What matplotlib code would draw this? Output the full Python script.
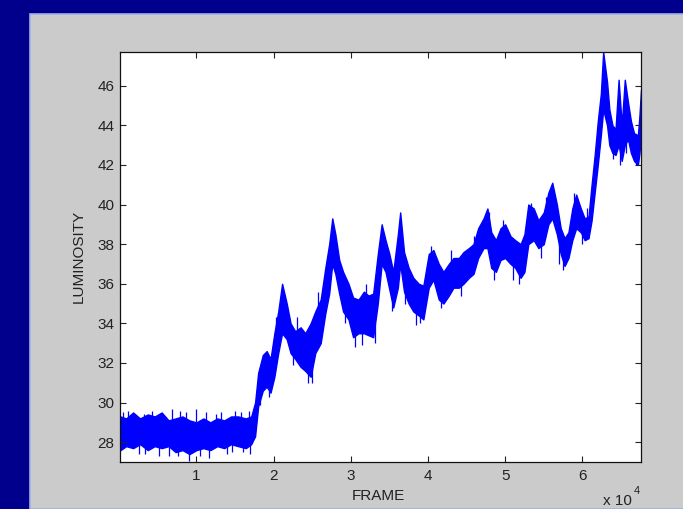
import matplotlib
matplotlib.use("Agg")
import matplotlib.pyplot as plt
from matplotlib.patches import Rectangle

# luminosity trace: frame (thousands), band low, band high
frame_k = [0.16, 0.9, 1.8, 2.7, 3.7, 4.6, 5.5, 6.4, 7.3, 8.2, 9.1, 10.0, 10.9, 11.8,
           12.7, 13.6, 14.5, 15.4, 16.4, 17.1, 17.6, 18.0, 18.6, 19.1, 19.6, 20.1,
           20.6, 21.1, 21.7, 22.2, 22.8, 23.5, 24.1, 24.8, 25.4, 26.1, 26.7, 27.2,
           27.6, 28.0, 28.5, 29.0, 29.7, 30.3, 31.0, 31.7, 32.3, 32.9, 33.5, 34.0,
           34.5, 35.0, 35.5, 36.1, 36.4, 36.9, 37.5, 38.1, 38.8, 39.4, 40.1, 40.7,
           41.4, 42.0, 42.7, 43.3, 44.0, 44.6, 45.3, 45.9, 46.5, 47.2, 47.7, 48.2,
           48.8, 49.4, 50.0, 50.7, 51.3, 52.0, 52.5, 53.0, 53.7, 54.3, 55.0, 55.6,
           56.1, 56.7, 57.2, 57.7, 58.2, 58.7, 59.2, 59.8, 60.3, 60.8, 61.2, 61.6,
           62.0, 62.4, 62.7, 63.2, 63.5, 63.9, 64.3, 64.7, 65.1, 65.5, 65.9, 66.3,
           66.7, 67.2, 67.4, 67.6]
lum_lo = [27.6, 27.8, 27.7, 27.9, 27.6, 27.8, 27.7, 27.8, 27.5, 27.6, 27.4, 27.6, 27.7, 27.6,
          27.8, 27.7, 27.9, 27.8, 27.7, 27.9, 28.3, 29.8, 30.6, 30.8, 30.5, 31.3,
          32.5, 33.5, 33.2, 32.5, 32.2, 31.8, 31.6, 31.3, 32.5, 33.0, 34.5, 35.5,
          37.0, 36.5, 35.5, 34.6, 34.2, 33.3, 33.5, 33.5, 33.4, 33.3, 35.0, 37.0,
          36.6, 35.7, 34.8, 35.8, 37.0, 35.6, 35.0, 34.6, 34.4, 34.2, 35.8, 36.2,
          35.2, 35.0, 35.4, 35.8, 35.8, 36.0, 36.3, 36.5, 37.3, 37.8, 37.8, 36.8,
          36.6, 37.2, 37.3, 37.0, 36.8, 36.3, 36.6, 38.0, 38.2, 37.8, 38.0, 39.0,
          39.3, 38.5, 37.5, 36.9, 37.3, 38.2, 38.8, 38.6, 38.2, 38.3, 39.2, 40.6,
          42.0, 43.5, 44.8, 44.0, 43.0, 42.6, 42.5, 43.0, 42.2, 43.0, 43.3, 42.6,
          42.2, 42.0, 42.6, 43.5]
lum_hi = [29.3, 29.2, 29.5, 29.2, 29.4, 29.3, 29.5, 29.1, 29.2, 29.3, 29.1, 29.0, 29.2, 29.0,
          29.2, 29.1, 29.3, 29.3, 29.2, 29.3, 30.0, 31.5, 32.4, 32.6, 32.2, 33.5,
          34.6, 36.0, 35.0, 34.0, 33.6, 33.8, 33.5, 34.0, 34.6, 35.2, 36.8, 38.0,
          39.3, 38.5, 37.2, 36.6, 36.0, 35.3, 35.2, 35.6, 35.4, 35.5, 37.5, 39.0,
          38.2, 37.5, 36.6, 38.5, 39.6, 37.6, 36.8, 36.3, 36.0, 35.9, 37.5, 37.7,
          37.0, 36.6, 37.0, 37.3, 37.3, 37.6, 37.8, 38.0, 38.8, 39.3, 39.8, 38.6,
          38.2, 38.8, 39.0, 38.4, 38.2, 38.0, 38.5, 40.0, 39.8, 39.2, 39.6, 40.6,
          41.1, 40.0, 38.8, 38.3, 38.6, 39.8, 40.5, 39.8, 39.3, 39.4, 41.0, 42.5,
          44.2, 45.6, 47.7, 46.2, 44.8, 44.0, 43.8, 46.3, 44.0, 46.3, 45.2, 44.2,
          43.6, 43.5, 44.5, 45.8]

# single spikes that stick out of the band (frame in thousands, from, to)
spike_k = [0.5, 1.2, 2.5, 3.2, 3.3, 4.2, 5.1, 6.4, 6.8, 7.6, 7.9, 8.7, 9.1, 9.9,
           10.4, 11.2, 11.6, 12.5, 13.2, 13.9, 14.6, 15.0, 15.8, 16.1, 16.8, 17.0,
           18.3, 19.4, 20.3, 22.5, 23.0, 24.4, 25.0, 25.8, 29.3, 30.6, 31.4, 32.0,
           33.2, 35.3, 37.0, 38.4, 39.0, 40.4, 41.7, 43.0, 44.3, 46.0, 47.9, 48.5,
           49.7, 51.0, 51.8, 53.3, 54.6, 55.3, 57.0, 57.5, 58.9, 60.0, 60.6,
           64.0, 64.9, 65.7, 66.9]
spike_from = [28.5, 29.0, 28.0, 28.5, 28.0, 29.0, 28.0, 28.0, 29.0, 28.0, 29.0, 28.5, 28.0, 29.0,
              28.0, 28.5, 28.0, 29.0, 28.5, 28.0, 28.0, 28.5, 29.0, 28.0, 28.5, 28.0,
              31.0, 31.0, 32.5, 32.5, 33.0, 32.0, 32.0, 34.0, 35.0, 34.0, 34.0, 34.5,
              34.0, 35.5, 36.0, 35.0, 35.0, 36.5, 35.5, 36.5, 36.5, 37.0, 38.5, 37.0,
              38.0, 37.0, 37.0, 39.0, 38.3, 39.0, 38.0, 37.5, 39.5, 39.0, 39.0,
              43.0, 43.0, 43.5, 43.0]
spike_to = [29.5, 29.6, 27.4, 29.4, 27.4, 29.6, 27.3, 27.3, 29.7, 27.3, 29.6, 29.5, 27.05, 29.7,
            27.3, 29.5, 27.2, 29.4, 29.5, 27.4, 27.5, 29.6, 29.5, 27.5, 29.6, 27.4,
            29.9, 30.3, 34.3, 31.9, 34.3, 31.0, 31.0, 35.6, 34.0, 32.8, 32.9, 36.0,
            33.0, 34.6, 35.0, 33.9, 34.0, 37.9, 34.8, 37.7, 35.4, 38.4, 39.6, 36.2,
            39.2, 36.2, 36.0, 40.1, 37.3, 40.4, 37.0, 36.7, 40.6, 38.0, 39.8,
            42.3, 42.0, 42.6, 42.0]

x_ticks = [1, 2, 3, 4, 5, 6]
y_ticks = [28, 30, 32, 34, 36, 38, 40, 42, 44, 46]

plt.rcParams['font.family'] = ['Liberation Sans', 'DejaVu Sans']
text_col = '#222222'

fig = plt.figure(figsize=(6.83, 5.09), dpi=100)
fig.patch.set_facecolor('#00008c')
# grey figure window on the blue slide
win = Rectangle((30 / 683, 0), 1, 1 - 14 / 509, transform=fig.transFigure,
                facecolor='#cbcbcb', edgecolor='#9fb0e8', linewidth=1.2, zorder=-5)
fig.patches.append(win)

ax = fig.add_axes([120 / 683, 1 - 462 / 509, 521 / 683, 410 / 509])
ax.set_zorder(2)
ax.set_facecolor('white')

fr = [k * 1000 for k in frame_k]
ax.fill_between(fr, lum_lo, lum_hi, color='#0000ff', linewidth=1.0)
ax.vlines([k * 1000 for k in spike_k], spike_from, spike_to, color='#0000ff', linewidth=0.9)

ax.set_xlim(100, 67600)
ax.set_ylim(27.0, 47.7)
ax.set_xticks([t * 10000 for t in x_ticks])
ax.set_xticklabels([str(t) for t in x_ticks])
ax.set_yticks(y_ticks)
ax.tick_params(direction='in', length=4, width=0.8, top=True, right=True,
               labelsize=11, colors=text_col, pad=5)
ax.tick_params(axis='y', pad=4)
for s in ax.spines.values():
    s.set_linewidth(0.9)
    s.set_color('#111111')

fig.text(378 / 683, 1 - 496 / 509, 'FRAME', ha='center', va='center', fontsize=11, color=text_col)
fig.text(79 / 683, 1 - 256 / 509, 'LUMINOSITY', ha='center', va='center', rotation=90,
         fontsize=11, color=text_col)
fig.text(603 / 683, 1 - 501 / 509, 'x 10', ha='left', va='center', fontsize=11, color=text_col)
fig.text(634 / 683, 1 - 491 / 509, '4', ha='left', va='center', fontsize=8, color=text_col)

fig.savefig('out.png', dpi=100, facecolor=fig.get_facecolor())
